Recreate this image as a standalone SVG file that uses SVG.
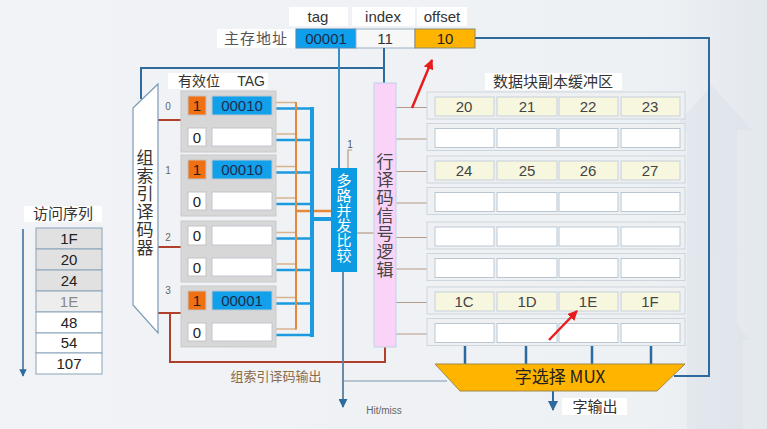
<svg xmlns="http://www.w3.org/2000/svg" width="767" height="429" viewBox="0 0 767 429">
<defs>
<linearGradient id="bg" x1="0" y1="0" x2="1" y2="0">
<stop offset="0" stop-color="#f1f3f6"/>
<stop offset="0.85" stop-color="#eef1f4"/>
<stop offset="1" stop-color="#e3e8ee"/>
</linearGradient>
<marker id="ah" viewBox="0 0 10 10" refX="9" refY="5" markerWidth="5" markerHeight="5" orient="auto">
<path d="M0,0 L10,5 L0,10 z" fill="#2f6a9e"/>
</marker>
<marker id="ahr" viewBox="0 0 10 10" refX="9" refY="5" markerWidth="4" markerHeight="4" orient="auto">
<path d="M0,0 L10,5 L0,10 z" fill="#e81c1c"/>
</marker>
</defs>
<style>
text{font-family:"Liberation Sans","Noto Sans CJK SC",sans-serif;}
.lbl{font-size:15px;fill:#333;text-anchor:middle;}
.cjk{font-family:"Noto Sans CJK SC","Liberation Sans",sans-serif;}
.vert{writing-mode:vertical-rl;text-anchor:middle;}
.wbox{fill:#ffffff;}
.set{fill:#d7d7d7;stroke:#c9c9c9;stroke-width:1;}
.vcell{stroke:#c4c4c4;stroke-width:1;}
.v1{fill:#f07012;}
.v0{fill:#ffffff;}
.tcell{stroke:#c0c8d0;stroke-width:1;}
.tfill{fill:#13a0ea;}
.tempty{fill:#ffffff;}
.row{fill:#eef0f2;stroke:#cdd5dd;stroke-width:1;}
.dcell{fill:#f7f7e0;stroke:#c6d0d8;stroke-width:1;}
.ecell{fill:#ffffff;stroke:#b9c7d5;stroke-width:1;}
.dtxt{font-size:15px;fill:#444;text-anchor:middle;}
.ttxt{font-size:15px;fill:#1a2b4f;text-anchor:middle;}
.tan{stroke:#d8b48e;stroke-width:1.5;fill:none;}
.bw{stroke:#1b9ae0;stroke-width:2.5;fill:none;}
.dec{stroke:#b0402c;stroke-width:2;fill:none;}
.rw{stroke:#b59a88;stroke-width:1.2;fill:none;}
.navy{stroke:#2f6a9e;stroke-width:2;fill:none;}
.seq{stroke:#8aa3ba;stroke-width:1;}
</style>
<rect x="0" y="0" width="767" height="429" fill="url(#bg)"/>
<g opacity="0.45" fill="#dae1e9">
<polygon points="687,429 687,130 672,130 712,85 752,130 737,130 737,429"/>
<polygon points="727,429 727,340 720,340 735,322 750,340 743,340 743,429"/>
</g>

<g id="addr-labels">
<rect class="wbox" x="289" y="7" width="59" height="19"/>
<text class="lbl" x="318" y="22">tag</text>
<rect class="wbox" x="352" y="7" width="63" height="19"/>
<text class="lbl" x="383" y="22">index</text>
<rect class="wbox" x="417" y="7" width="50" height="19"/>
<text class="lbl" x="442" y="22">offset</text>
</g>
<g id="address">
<rect class="wbox" x="217" y="29" width="78" height="19"/>
<text class="lbl cjk" x="256" y="44" style="fill:#555;letter-spacing:1px">主存地址</text>
<rect x="296" y="29" width="60" height="19" fill="#0ea0ec" stroke="#4a86b4" stroke-width="1"/>
<text class="ttxt" x="326" y="44">00001</text>
<rect x="356" y="29" width="59" height="19" fill="#f7f7f7" stroke="#9ab0c4" stroke-width="1"/>
<text class="lbl" x="385" y="44">11</text>
<rect x="415" y="29" width="60" height="19" fill="#ffb400" stroke="#8a8a70" stroke-width="1"/>
<text class="lbl" x="445" y="44" style="fill:#222">10</text>
</g>

<g id="connectors">
<polyline class="navy" points="475,38 709,38 709,376 674,376"/>
<polyline class="navy" points="384,48 384,83"/>
<polyline class="navy" points="384,68 141,68 141,99"/>
<polyline points="339,48 339,168" stroke="#3a8cc4" stroke-width="2" fill="none"/>
<polyline points="352,150 348,150 348,168" stroke="#b59a88" stroke-width="1.2" fill="none"/>
<line class="rw" x1="357" y1="233" x2="374" y2="233"/>
<line class="dec" x1="158" y1="120" x2="181" y2="120"/>
<line class="dec" x1="158" y1="247" x2="181" y2="247"/>
<line class="dec" x1="158" y1="313" x2="181" y2="313"/>
<polyline class="dec" points="170,313 170,362 385,362 385,347"/>
<path class="tan" d="M276,102.5H296M276,134H296M276,166.5H296M276,198H296M276,232.5H296M276,264H296M276,297.5H296M276,329H296"/>
<path class="bw" d="M276,108.5H312M276,140H312M276,172.5H312M276,204H312M276,238.5H312M276,270H312M276,303.5H312M276,335H312"/>
<line x1="296" y1="102" x2="296" y2="329.5" stroke="#e4883a" stroke-width="2"/>
<line x1="296" y1="211" x2="331" y2="211" stroke="#e4883a" stroke-width="2.5"/>
<line x1="312" y1="107" x2="312" y2="337" stroke="#1b9ae0" stroke-width="4"/>
<line x1="312" y1="219" x2="331" y2="219" stroke="#1b9ae0" stroke-width="4"/>
<path class="rw" d="M396,107.5H427M396,139H427M396,171.5H427M396,203H427M396,237.5H427M396,269H427M396,302.5H427M396,334H427"/>
<path d="M465,345V364M526,345V364M592,345V364M651,345V364" stroke="#2b6aa0" stroke-width="2.5" fill="none"/>
<line x1="343" y1="272" x2="343" y2="407" stroke="#5d7e9c" stroke-width="1.8" marker-end="url(#ah)"/>
<line x1="343" y1="381" x2="447" y2="381" stroke="#7f98ad" stroke-width="1.2"/>
<line x1="553" y1="391" x2="553" y2="410" stroke="#2f6a9e" stroke-width="2" marker-end="url(#ah)"/>
<line x1="23" y1="229" x2="23" y2="376" stroke="#3a6a98" stroke-width="1.5" marker-end="url(#ah)"/>
</g>

<g id="set-decoder">
<polygon points="133,108 158,84 158,333 133,305" fill="#ffffff" stroke="#7d9ab4" stroke-width="1.2"/>
<text class="cjk vert" x="145" y="203" font-size="17" fill="#333" style="letter-spacing:1px">组索引译码器</text>
<text font-size="10" fill="#666" text-anchor="middle"><tspan x="168" y="110">0</tspan><tspan x="168" y="174">1</tspan><tspan x="168" y="241">2</tspan><tspan x="168" y="294">3</tspan></text>
</g>
<g id="cache-header">
<rect class="wbox" x="168" y="73" width="100" height="16"/>
<text class="cjk" x="199" y="86" font-size="14" fill="#333" text-anchor="middle">有效位</text>
<text x="251" y="86" font-size="14" fill="#333" text-anchor="middle">TAG</text>
</g>

<g id="set0">
<rect class="set" x="181" y="91" width="95" height="61"/>
<rect class="vcell v1" x="188" y="96" width="18" height="19"/><text class="ttxt" x="197" y="111" style="fill:#222">1</text>
<rect class="tcell tfill" x="212" y="96" width="60" height="19"/><text class="ttxt" x="242" y="111">00010</text>
<rect class="vcell v0" x="188" y="128" width="18" height="18"/><text class="ttxt" x="197" y="143" style="fill:#222">0</text>
<rect class="tcell tempty" x="212" y="128" width="60" height="18"/>
</g>
<g id="set1">
<rect class="set" x="181" y="155" width="95" height="61"/>
<rect class="vcell v1" x="188" y="160" width="18" height="19"/><text class="ttxt" x="197" y="175" style="fill:#222">1</text>
<rect class="tcell tfill" x="212" y="160" width="60" height="19"/><text class="ttxt" x="242" y="175">00010</text>
<rect class="vcell v0" x="188" y="192" width="18" height="18"/><text class="ttxt" x="197" y="207" style="fill:#222">0</text>
<rect class="tcell tempty" x="212" y="192" width="60" height="18"/>
</g>
<g id="set2">
<rect class="set" x="181" y="221" width="95" height="61"/>
<rect class="vcell v0" x="188" y="226" width="18" height="19"/><text class="ttxt" x="197" y="241" style="fill:#222">0</text>
<rect class="tcell tempty" x="212" y="226" width="60" height="19"/>
<rect class="vcell v0" x="188" y="258" width="18" height="18"/><text class="ttxt" x="197" y="273" style="fill:#222">0</text>
<rect class="tcell tempty" x="212" y="258" width="60" height="18"/>
</g>
<g id="set3">
<rect class="set" x="181" y="286" width="95" height="61"/>
<rect class="vcell v1" x="188" y="291" width="18" height="19"/><text class="ttxt" x="197" y="306" style="fill:#222">1</text>
<rect class="tcell tfill" x="212" y="291" width="60" height="19"/><text class="ttxt" x="242" y="306">00001</text>
<rect class="vcell v0" x="188" y="323" width="18" height="18"/><text class="ttxt" x="197" y="338" style="fill:#222">0</text>
<rect class="tcell tempty" x="212" y="323" width="60" height="18"/>
</g>

<g id="comparator">
<rect x="331" y="168" width="26" height="104" fill="#0b9be2"/>
<text class="cjk vert" x="344" y="218" font-size="15" fill="#ffffff">多路并发比较</text>
<text x="350" y="148" font-size="10" fill="#555" text-anchor="middle">1</text>
</g>

<g id="row-decoder">
<rect x="374" y="83" width="22" height="264" fill="#f9d3f8" stroke="#c8d6ea" stroke-width="1.2"/>
<text class="cjk vert" x="385" y="216" font-size="17" fill="#444" style="letter-spacing:1px">行译码信号逻辑</text>
</g>

<g id="buffer">
<rect class="wbox" x="485" y="73" width="137" height="17"/>
<text class="cjk" x="553" y="87" font-size="15" fill="#333" text-anchor="middle">数据块副本缓冲区</text>
<rect class="row" x="427" y="92" width="258" height="27"/>
<rect class="dcell" x="435" y="97" width="59" height="19"/><rect class="dcell" x="497" y="97" width="60" height="19"/><rect class="dcell" x="559" y="97" width="59" height="19"/><rect class="dcell" x="621" y="97" width="59" height="19"/>
<text class="dtxt" x="464" y="112">20</text><text class="dtxt" x="527" y="112">21</text><text class="dtxt" x="588" y="112">22</text><text class="dtxt" x="650" y="112">23</text>
<rect class="row" x="427" y="123.5" width="258" height="27"/>
<rect class="ecell" x="435" y="128.5" width="59" height="19"/><rect class="ecell" x="497" y="128.5" width="60" height="19"/><rect class="ecell" x="559" y="128.5" width="59" height="19"/><rect class="ecell" x="621" y="128.5" width="59" height="19"/>
<rect class="row" x="427" y="156" width="258" height="27"/>
<rect class="dcell" x="435" y="161" width="59" height="19"/><rect class="dcell" x="497" y="161" width="60" height="19"/><rect class="dcell" x="559" y="161" width="59" height="19"/><rect class="dcell" x="621" y="161" width="59" height="19"/>
<text class="dtxt" x="464" y="176">24</text><text class="dtxt" x="527" y="176">25</text><text class="dtxt" x="588" y="176">26</text><text class="dtxt" x="650" y="176">27</text>
<rect class="row" x="427" y="187.5" width="258" height="27"/>
<rect class="ecell" x="435" y="192.5" width="59" height="19"/><rect class="ecell" x="497" y="192.5" width="60" height="19"/><rect class="ecell" x="559" y="192.5" width="59" height="19"/><rect class="ecell" x="621" y="192.5" width="59" height="19"/>
<rect class="row" x="427" y="222" width="258" height="27"/>
<rect class="ecell" x="435" y="227" width="59" height="19"/><rect class="ecell" x="497" y="227" width="60" height="19"/><rect class="ecell" x="559" y="227" width="59" height="19"/><rect class="ecell" x="621" y="227" width="59" height="19"/>
<rect class="row" x="427" y="253.5" width="258" height="27"/>
<rect class="ecell" x="435" y="258.5" width="59" height="19"/><rect class="ecell" x="497" y="258.5" width="60" height="19"/><rect class="ecell" x="559" y="258.5" width="59" height="19"/><rect class="ecell" x="621" y="258.5" width="59" height="19"/>
<rect class="row" x="427" y="287" width="258" height="27"/>
<rect class="dcell" x="435" y="292" width="59" height="19"/><rect class="dcell" x="497" y="292" width="60" height="19"/><rect class="dcell" x="559" y="292" width="59" height="19"/><rect class="dcell" x="621" y="292" width="59" height="19"/>
<text class="dtxt" x="464" y="307">1C</text><text class="dtxt" x="527" y="307">1D</text><text class="dtxt" x="588" y="307">1E</text><text class="dtxt" x="650" y="307">1F</text>
<rect class="row" x="427" y="318.5" width="258" height="27"/>
<rect class="ecell" x="435" y="323.5" width="59" height="19"/><rect class="ecell" x="497" y="323.5" width="60" height="19"/><rect class="ecell" x="559" y="323.5" width="59" height="19"/><rect class="ecell" x="621" y="323.5" width="59" height="19"/>
</g>

<g id="mux">
<polygon points="435,364 685,364 657,391 460,391" fill="#ffb400" stroke="#a08848" stroke-width="1"/>
<text class="cjk" x="560" y="383" font-size="17" fill="#222" text-anchor="middle">字选择 MUX</text>
</g>
<g id="word-out">
<rect class="wbox" x="562" y="398" width="65" height="17"/>
<text class="cjk" x="595" y="412" font-size="15" fill="#333" text-anchor="middle">字输出</text>
</g>
<g id="labels">
<text class="cjk" x="276" y="381" font-size="13" fill="#8a6a4c" text-anchor="middle">组索引译码输出</text>
<text x="384" y="414" font-size="10" fill="#666" text-anchor="middle">Hit/miss</text>
</g>

<g id="access-seq">
<rect class="wbox" x="24" y="206" width="78" height="16"/>
<text class="cjk" x="63" y="219" font-size="15" fill="#333" text-anchor="middle">访问序列</text>
<rect class="seq" x="36" y="228" width="66" height="21" fill="#e1e1e1"/>
<rect class="seq" x="36" y="249" width="66" height="21" fill="#e1e1e1"/>
<rect class="seq" x="36" y="270" width="66" height="21" fill="#e1e1e1"/>
<rect class="seq" x="36" y="291" width="66" height="21" fill="#ededed"/>
<rect class="seq" x="36" y="312" width="66" height="21" fill="#ffffff"/>
<rect class="seq" x="36" y="333" width="66" height="20" fill="#ffffff"/>
<rect class="seq" x="36" y="353" width="66" height="21" fill="#ffffff"/>
<text class="dtxt" x="69" y="244" style="fill:#222">1F</text>
<text class="dtxt" x="69" y="265" style="fill:#222">20</text>
<text class="dtxt" x="69" y="286" style="fill:#222">24</text>
<text class="dtxt" x="69" y="307" style="fill:#888">1E</text>
<text class="dtxt" x="69" y="328" style="fill:#222">48</text>
<text class="dtxt" x="69" y="348" style="fill:#222">54</text>
<text class="dtxt" x="69" y="369" style="fill:#222">107</text>
</g>

<g id="red-arrows" stroke="#e81c1c" stroke-width="2.5" fill="none">
<line x1="412" y1="108" x2="432" y2="60" marker-end="url(#ahr)"/>
<line x1="549" y1="340" x2="577" y2="311" marker-end="url(#ahr)"/>
</g>
</svg>
